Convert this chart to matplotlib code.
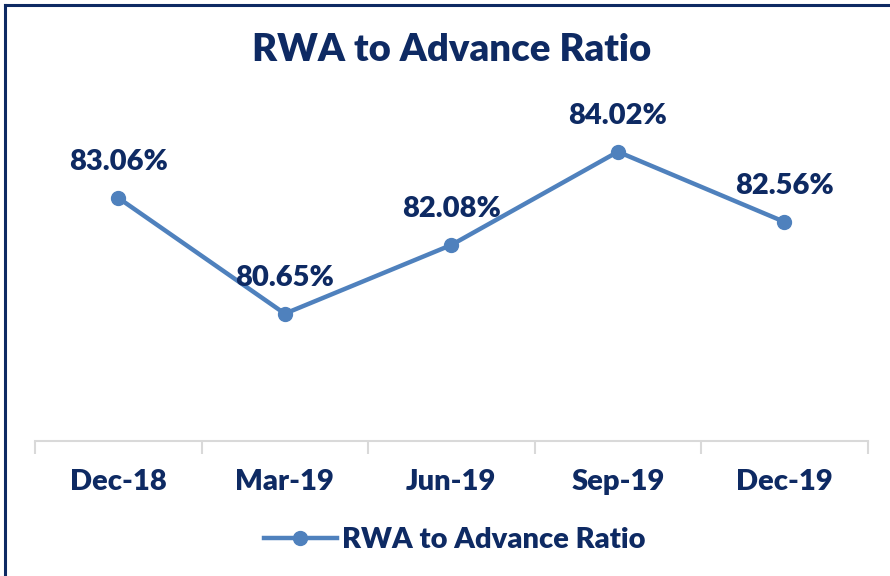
import matplotlib.pyplot as plt
from matplotlib.lines import Line2D

plt.rcParams['font.family'] = ['Lato', 'DejaVu Sans']

periods = ["Dec-18", "Mar-19", "Jun-19", "Sep-19", "Dec-19"]
ratio = [83.06, 80.65, 82.08, 84.02, 82.56]
series_name = "RWA to Advance Ratio"

navy = "#0E2A63"
line_blue = "#4F81BD"

fig = plt.figure(figsize=(8.9, 5.76), dpi=100)
ax = fig.add_axes([0.0393, 0.2344, 0.9357, 0.6673])

x = list(range(len(periods)))
ax.plot(x, ratio, color=line_blue, lw=3.2, marker="o", ms=10,
        solid_capstyle="round", zorder=3)

for xi, v in zip(x, ratio):
    ax.annotate(f"{v:.2f}%", (xi, v), xytext=(0, 26), textcoords="offset points",
                ha="center", va="center", fontsize=21, fontweight="heavy", color=navy)

ax.set_xlim(-0.5, len(periods) - 0.5)
ax.set_ylim(78, 86)
ax.set_yticks([])
ax.set_xticks(x)
ax.set_xticklabels(periods, fontsize=21, fontweight="heavy", color=navy)
ax.tick_params(axis="x", which="major", length=0, pad=20)
ax.set_xticks([i - 0.5 for i in range(len(periods) + 1)], minor=True)
ax.tick_params(axis="x", which="minor", length=9, width=1.5, color="#D9D9D9")
for side in ["top", "right", "left"]:
    ax.spines[side].set_visible(False)
ax.spines["bottom"].set_color("#D9D9D9")
ax.spines["bottom"].set_linewidth(1.5)

fig.text(0.508, 0.913, series_name, ha="center", va="center",
         fontsize=27.5, fontweight="heavy", color=navy)

handle = Line2D([], [], color=line_blue, lw=3.2, marker="o", ms=10)
fig.legend([handle], [series_name], loc="center", bbox_to_anchor=(0.511, 0.062),
           frameon=False, handlelength=2.5, handletextpad=0.2,
           prop={"size": 21, "weight": "heavy"}, labelcolor=navy)

# partial dark border, as in the source crop
fig.add_artist(Line2D([0.006, 1.0], [0.991, 0.991], color=navy, lw=2.2,
                      transform=fig.transFigure))
fig.add_artist(Line2D([0.006, 0.006], [0.0, 0.991], color=navy, lw=2.2,
                      transform=fig.transFigure))

fig.savefig("out.png", dpi=100, facecolor="white")
